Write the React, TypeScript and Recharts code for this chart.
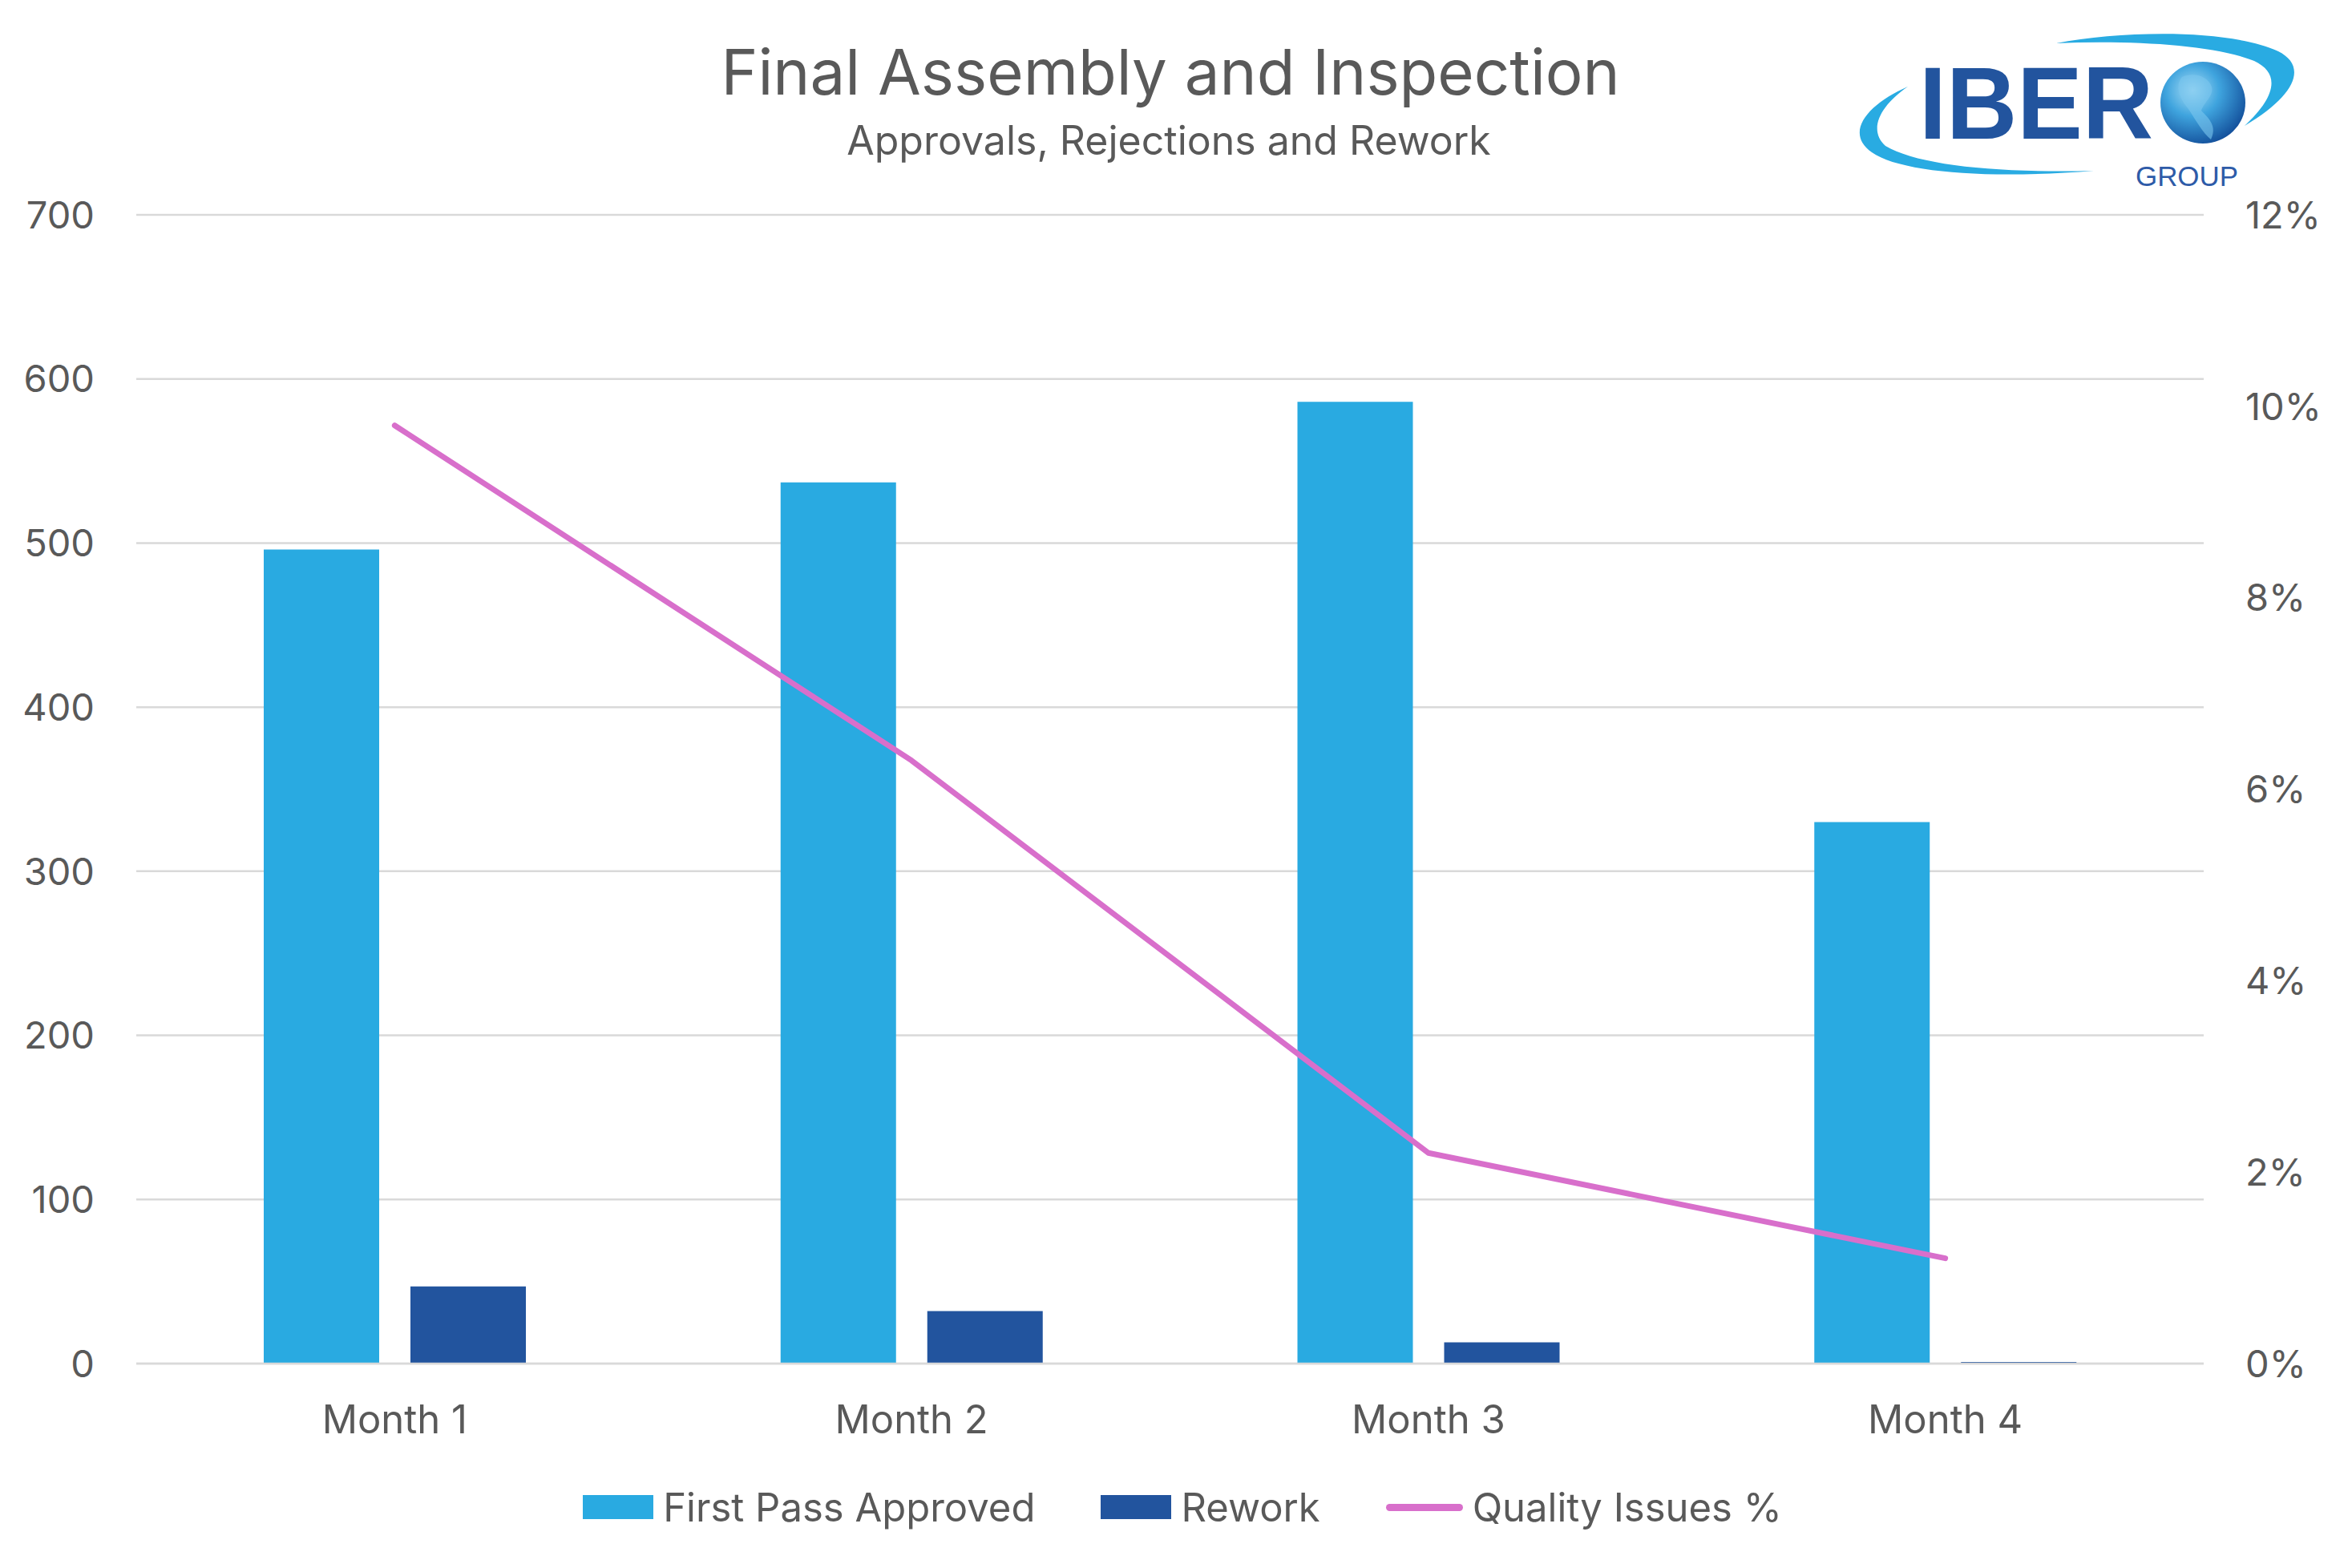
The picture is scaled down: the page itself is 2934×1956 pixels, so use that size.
import React from "react";
import {
  ComposedChart,
  Bar,
  Line,
  XAxis,
  YAxis,
  CartesianGrid,
} from "recharts";

const months = ["Month 1", "Month 2", "Month 3", "Month 4"];
const firstPassApproved = [496, 537, 586, 330];
const rework = [47, 32, 13, 1];
const qualityIssuesPct = [9.8, 6.3, 2.2, 1.1];
const leftTicks = [0, 100, 200, 300, 400, 500, 600, 700];
const rightTicks = [0, 2, 4, 6, 8, 10, 12];

const seriesNames = ["First Pass Approved", "Rework", "Quality Issues %"];
const colors = ["#29AAE1", "#22549E", "#D86FCB"];

const data = months.map((m, i) => ({
  month: m,
  approved: firstPassApproved[i],
  rework: rework[i],
  quality: qualityIssuesPct[i],
}));

const FONT = "Inter, 'Open Sans', 'Liberation Sans', sans-serif";
const TXT = "#595959";

const W = 2934;
const H = 1956;
const PLOT_LEFT = 170;
const PLOT_RIGHT = 2749;
const PLOT_TOP = 268;
const PLOT_BOTTOM = 1701;
const LW = 150;
const RW = 150;
const XH = 100;

function Logo() {
  return (
    <g>
      <defs>
        <radialGradient id="globeGrad" cx="38%" cy="35%" r="70%">
          <stop offset="0%" stopColor="#A8DDF5" />
          <stop offset="45%" stopColor="#3FA4DE" />
          <stop offset="100%" stopColor="#124E9A" />
        </radialGradient>
      </defs>
      <path
        d="M 2380 108 C 2330 130, 2300 165, 2335 190 C 2370 215, 2480 224, 2612 213 C 2490 216, 2392 206, 2352 182 C 2330 162, 2345 132, 2380 108 Z"
        fill="#29ABE2"
      />
      <path
        d="M 2565 54 C 2650 38, 2780 36, 2842 64 C 2878 82, 2866 118, 2800 157 C 2838 122, 2846 92, 2812 76 C 2762 56, 2660 50, 2565 54 Z"
        fill="#29ABE2"
      />
      <text
        x={2394}
        y={173}
        fontFamily="'Liberation Sans', Arial, sans-serif"
        fontWeight={700}
        fontSize={128}
        fill="#22549E"
        textLength={292}
        lengthAdjust="spacingAndGlyphs"
      >
        IBER
      </text>
      <ellipse cx={2748} cy={128} rx={53} ry={51} fill="url(#globeGrad)" />
      <path
        d="M 2722 96 C 2735 90, 2752 94, 2758 106 C 2764 118, 2750 126, 2746 138 C 2756 148, 2766 158, 2758 174 C 2748 166, 2738 148, 2730 136 C 2720 124, 2712 108, 2722 96 Z"
        fill="#7CC7EE"
        opacity={0.6}
      />
      <text
        x={2664}
        y={232}
        fontFamily="'Liberation Sans', Arial, sans-serif"
        fontWeight={400}
        fontSize={35}
        fill="#2E5BA8"
        textLength={128}
        lengthAdjust="spacingAndGlyphs"
      >
        GROUP
      </text>
    </g>
  );
}

function LegendOverlay() {
  return (
    <div
      style={{
        position: "absolute",
        left: 0,
        top: 1850,
        width: 2950,
        height: 60,
        display: "flex",
        justifyContent: "center",
        alignItems: "center",
        gap: 82,
        fontFamily: FONT,
        fontSize: 49,
        color: TXT,
      }}
    >
      {seriesNames.map((name, i) => (
        <div key={name} style={{ display: "flex", alignItems: "center", gap: 12 }}>
          {i < 2 ? (
            <div style={{ width: 88, height: 30, background: colors[i] }} />
          ) : (
            <div
              style={{
                width: 96,
                height: 9,
                background: colors[i],
                borderRadius: 5,
              }}
            />
          )}
          <span style={{ whiteSpace: "nowrap" }}>{name}</span>
        </div>
      ))}
    </div>
  );
}

export default function App() {
  return (
    <div
      style={{
        position: "absolute",
        left: 0,
        top: 0,
        width: W,
        height: H,
        background: "#FFFFFF",
        overflow: "hidden",
      }}
    >
      <div style={{ position: "absolute", left: 0, top: 0 }}>
        <ComposedChart
          width={W}
          height={H}
          data={data}
          margin={{
            top: PLOT_TOP,
            right: W - PLOT_RIGHT - RW,
            bottom: H - PLOT_BOTTOM - XH,
            left: PLOT_LEFT - LW,
          }}
          barGap={39}
        >
          <CartesianGrid
            yAxisId="left"
            vertical={false}
            stroke="#D9D9D9"
            strokeWidth={2.5}
          />
          <XAxis
            dataKey="month"
            height={XH}
            axisLine={{ stroke: "#D9D9D9", strokeWidth: 2.5 }}
            tickLine={false}
            tickSize={0}
            tickMargin={52}
            tick={{ fill: TXT, fontSize: 49, fontFamily: FONT }}
          />
          <YAxis
            yAxisId="left"
            orientation="left"
            width={LW}
            domain={[0, 700]}
            ticks={leftTicks}
            axisLine={false}
            tickLine={false}
            tickSize={0}
            tickMargin={52}
            tick={{ fill: TXT, fontSize: 47, fontFamily: FONT }}
          />
          <YAxis
            yAxisId="right"
            orientation="right"
            width={RW}
            domain={[0, 12]}
            ticks={rightTicks}
            tickFormatter={(v: number) => `${v}%`}
            axisLine={false}
            tickLine={false}
            tickSize={0}
            tickMargin={52}
            tick={{ fill: TXT, fontSize: 47, fontFamily: FONT, textAnchor: "start" }}
          />
          <Bar
            yAxisId="left"
            dataKey="approved"
            name={seriesNames[0]}
            fill={colors[0]}
            barSize={144}
            isAnimationActive={false}
          />
          <Bar
            yAxisId="left"
            dataKey="rework"
            name={seriesNames[1]}
            fill={colors[1]}
            barSize={144}
            isAnimationActive={false}
          />
          <Line
            yAxisId="right"
            type="linear"
            dataKey="quality"
            name={seriesNames[2]}
            stroke={colors[2]}
            strokeWidth={7}
            strokeLinecap="round"
            strokeLinejoin="round"
            dot={false}
            activeDot={false}
            isAnimationActive={false}
          />
        </ComposedChart>
      </div>
      <svg
        width={W}
        height={H}
        style={{ position: "absolute", left: 0, top: 0, pointerEvents: "none" }}
      >
        <text
          x={1460}
          y={118}
          textAnchor="middle"
          fontFamily={FONT}
          fontSize={78}
          fill={TXT}
        >
          Final Assembly and Inspection
        </text>
        <text
          x={1458}
          y={193}
          textAnchor="middle"
          fontFamily={FONT}
          fontSize={50}
          fill={TXT}
        >
          Approvals, Rejections and Rework
        </text>
        <Logo />
      </svg>
      <LegendOverlay />
    </div>
  );
}
